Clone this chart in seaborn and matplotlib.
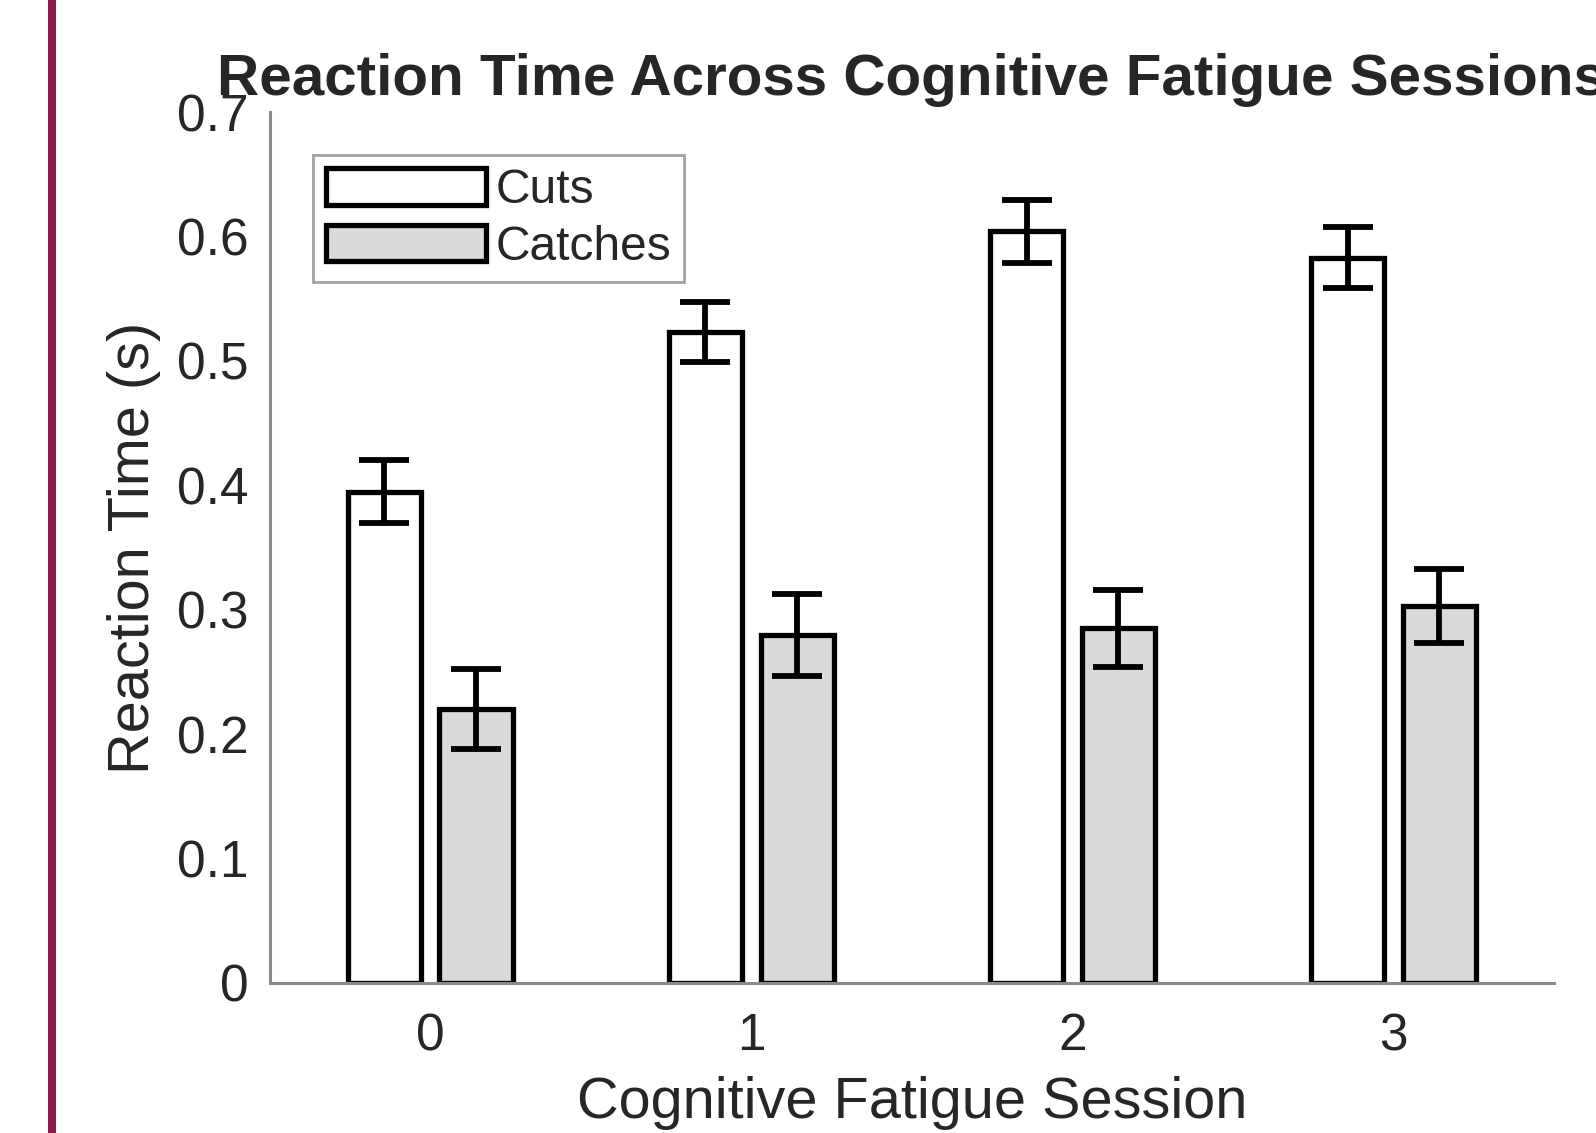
import matplotlib
matplotlib.use("Agg")
import matplotlib.pyplot as plt
import seaborn as sns
import pandas as pd
from matplotlib.patches import Rectangle

# ---- data ----
sessions = ["0", "1", "2", "3"]
types = ["Cuts", "Catches"]
cuts_mean = [0.395, 0.523, 0.604, 0.583]
cuts_err = [0.025, 0.024, 0.025, 0.0245]
catches_mean = [0.220, 0.280, 0.285, 0.303]
catches_err = [0.032, 0.033, 0.031, 0.030]
ytick_vals = [0, 0.1, 0.2, 0.3, 0.4, 0.5, 0.6, 0.7]
ytick_labels = ["0", "0.1", "0.2", "0.3", "0.4", "0.5", "0.6", "0.7"]

df = pd.DataFrame({
    "session": sessions * 2,
    "type": [types[0]] * 4 + [types[1]] * 4,
    "rt": cuts_mean + catches_mean,
    "err": cuts_err + catches_err,
})

sns.set_style("white")
plt.rcParams["font.family"] = ["Liberation Sans", "DejaVu Sans"]

TXT = "#262626"
AXC = "#8a8a8a"

fig = plt.figure(figsize=(15.96, 11.33), dpi=100)
ax = fig.add_axes([0.169, 0.1324, 0.9737 - 0.169, 0.9011 - 0.1324])

sns.barplot(
    data=df, x="session", y="rt", hue="type",
    order=sessions, hue_order=types,
    palette={"Cuts": "white", "Catches": "#d9d9d9"},
    saturation=1, width=0.5714, gap=0.2, errorbar=None,
    edgecolor="black", linewidth=3.8, legend=False, ax=ax,
)

bar_containers = list(ax.containers)
leg = ax.legend(
    handles=bar_containers, labels=types,
    loc="upper left", bbox_to_anchor=(0.0335, 0.9506), borderaxespad=0,
    prop={"size": 34.5}, handlelength=3.35, handleheight=0.8, handletextpad=0.2,
    labelspacing=0.24, borderpad=0.27, frameon=True, fancybox=False,
    edgecolor=AXC, labelcolor=TXT,
)
leg.get_frame().set_linewidth(2.0)

# error bars from the drawn bars
errs = {types[0]: cuts_err, types[1]: catches_err}
for cont, t in zip(bar_containers, types):
    xs = [p.get_x() + p.get_width() / 2 for p in cont.patches]
    ys = [p.get_height() for p in cont.patches]
    ax.errorbar(xs, ys, yerr=errs[t], fmt="none", ecolor="black",
                elinewidth=4.2, capsize=18, capthick=4.2, zorder=5)

ax.set_xlim(-0.5, 3.5)
ax.set_ylim(0, 0.7)
ax.set_yticks(ytick_vals)
ax.set_yticklabels(ytick_labels)

for s in ["top", "right"]:
    ax.spines[s].set_visible(False)
for s in ["left", "bottom"]:
    ax.spines[s].set_color(AXC)
    ax.spines[s].set_linewidth(2.2)

ax.tick_params(axis="both", direction="in", length=9, width=2.2,
               color=AXC, labelcolor=TXT, labelsize=37)
ax.tick_params(axis="y", pad=15)
ax.tick_params(axis="x", pad=21)

ax.set_xlabel("Cognitive Fatigue Session", fontsize=41.5, color=TXT, labelpad=11)
ax.set_ylabel("Reaction Time (s)", fontsize=41.5, color=TXT, labelpad=12)
ax.set_title("Reaction Time Across Cognitive Fatigue Sessions",
             fontsize=42, fontweight="bold", color=TXT, pad=12)

# maroon vertical stripe at the left edge
fig.patches.append(Rectangle((48 / 1596, 0), 8 / 1596, 1, transform=fig.transFigure,
                             facecolor="#8e1c48", edgecolor="none"))

fig.savefig("out.png", dpi=100)
